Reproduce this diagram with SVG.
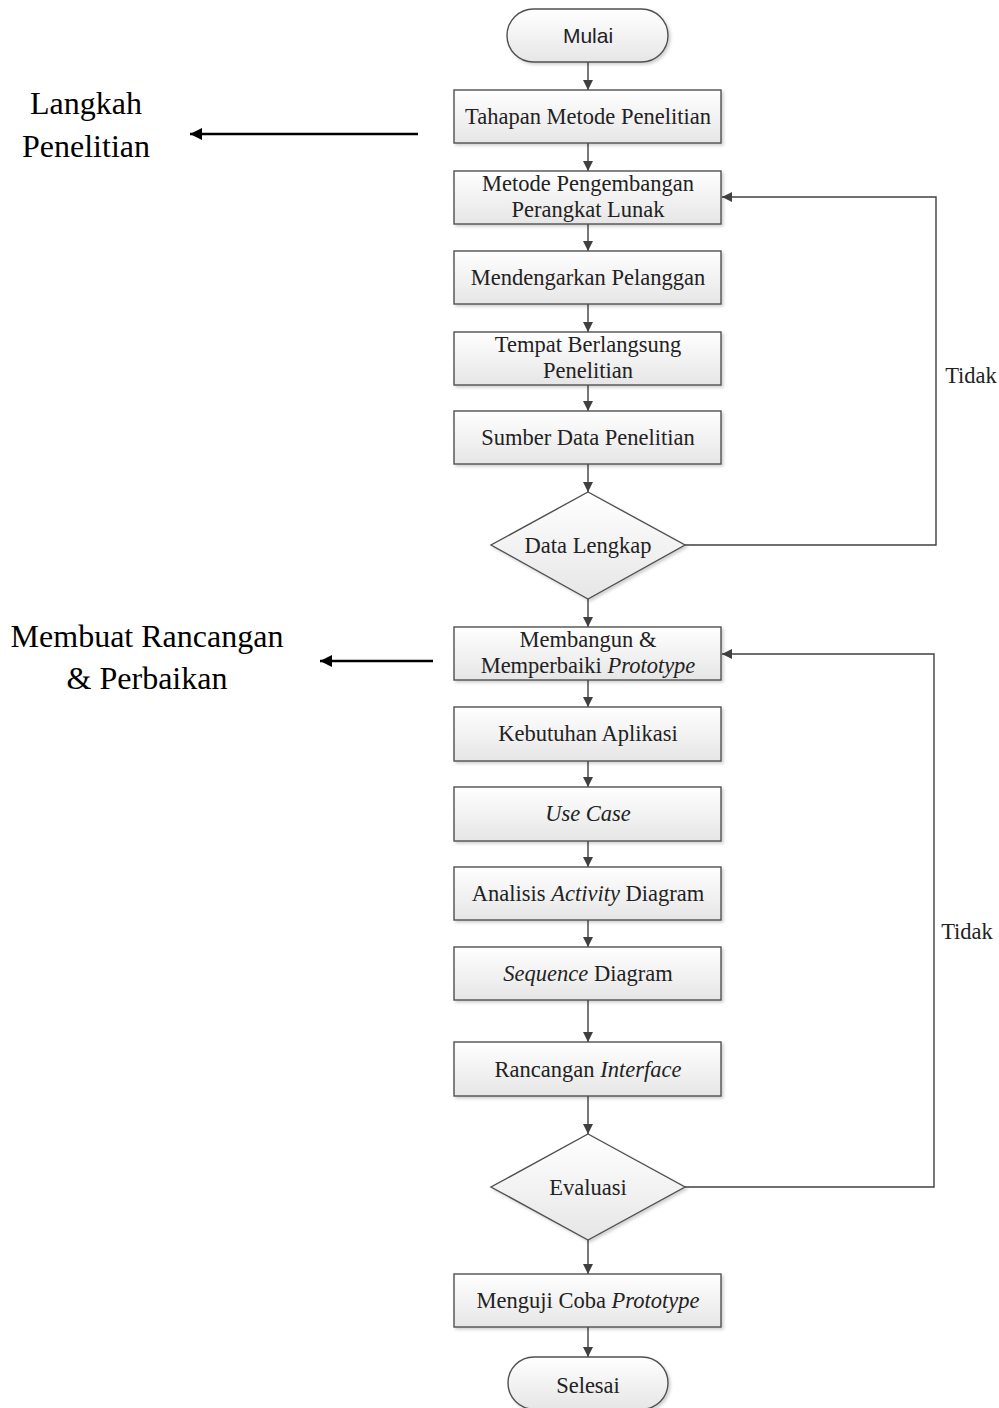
<svg xmlns="http://www.w3.org/2000/svg" width="999" height="1408" viewBox="0 0 999 1408">
<defs>
<linearGradient id="g" x1="0" y1="0" x2="0" y2="1">
<stop offset="0" stop-color="#ffffff"/>
<stop offset="1" stop-color="#e6e6e6"/>
</linearGradient>
<filter id="sh" x="-5%" y="-10%" width="115%" height="130%">
<feDropShadow dx="2" dy="2" stdDeviation="1.5" flood-color="#000" flood-opacity="0.18"/>
</filter>
<marker id="ah" viewBox="0 0 10 10" refX="10" refY="5" markerWidth="10" markerHeight="10" markerUnits="userSpaceOnUse" orient="auto">
<path d="M0,0 L10,5 L0,10 z" fill="#404040"/>
</marker>
<marker id="ahb" viewBox="0 0 10 10" refX="10" refY="5" markerWidth="14" markerHeight="12" markerUnits="userSpaceOnUse" orient="auto">
<path d="M0,0 L10,5 L0,10 z" fill="#000"/>
</marker>
</defs>
<style>
.n{fill:url(#g);stroke:#505050;stroke-width:1.4;filter:url(#sh)}
.t{font-family:"Liberation Serif","Times New Roman",serif;font-size:22.5px;fill:#222;text-anchor:middle}
.s{font-family:"Liberation Sans",Arial,sans-serif;font-size:21px;fill:#222;text-anchor:middle}
.L{font-family:"Liberation Serif","Times New Roman",serif;font-size:32px;fill:#000;text-anchor:middle}
.c{fill:none;stroke:#404040;stroke-width:1.4;marker-end:url(#ah)}
.b{fill:none;stroke:#000;stroke-width:2.5;marker-end:url(#ahb)}
</style>
<rect width="999" height="1408" fill="#fff"/>

<g id="labels">
<text class="L" x="86" y="114">Langkah</text>
<text class="L" x="86" y="157">Penelitian</text>
<text class="L" x="147" y="647">Membuat Rancangan</text>
<text class="L" x="147" y="689">&amp; Perbaikan</text>
<text class="t" x="971" y="383">Tidak</text>
<text class="t" x="967" y="939">Tidak</text>
</g>

<g id="connectors">
<line class="b" x1="418" y1="134" x2="190" y2="134"/>
<line class="b" x1="433" y1="661" x2="320" y2="661"/>
<line class="c" x1="588" y1="62" x2="588" y2="90"/>
<line class="c" x1="588" y1="143" x2="588" y2="171"/>
<line class="c" x1="588" y1="224" x2="588" y2="251"/>
<line class="c" x1="588" y1="304" x2="588" y2="332"/>
<line class="c" x1="588" y1="385" x2="588" y2="411"/>
<line class="c" x1="588" y1="464" x2="588" y2="492"/>
<line class="c" x1="588" y1="599" x2="588" y2="627"/>
<line class="c" x1="588" y1="680" x2="588" y2="707"/>
<line class="c" x1="588" y1="761" x2="588" y2="787"/>
<line class="c" x1="588" y1="841" x2="588" y2="867"/>
<line class="c" x1="588" y1="920" x2="588" y2="947"/>
<line class="c" x1="588" y1="1000" x2="588" y2="1042"/>
<line class="c" x1="588" y1="1096" x2="588" y2="1134"/>
<line class="c" x1="588" y1="1240" x2="588" y2="1274"/>
<line class="c" x1="588" y1="1327" x2="588" y2="1357"/>
<polyline class="c" points="685,545 936,545 936,197 722,197"/>
<polyline class="c" points="685,1187 934,1187 934,654 722,654"/>
</g>

<g id="n-mulai"><rect class="n" x="507" y="9" width="161" height="53" rx="26.5"/><text class="s" x="588" y="43">Mulai</text></g>
<g id="n-tahapan"><rect class="n" x="454" y="90" width="267" height="53"/><text class="t" x="588" y="124">Tahapan Metode Penelitian</text></g>
<g id="n-metode"><rect class="n" x="454" y="171" width="267" height="53"/><text class="t" x="588" y="191">Metode Pengembangan</text><text class="t" x="588" y="217">Perangkat Lunak</text></g>
<g id="n-mendengarkan"><rect class="n" x="454" y="251" width="267" height="53"/><text class="t" x="588" y="285">Mendengarkan Pelanggan</text></g>
<g id="n-tempat"><rect class="n" x="454" y="332" width="267" height="53"/><text class="t" x="588" y="352">Tempat Berlangsung</text><text class="t" x="588" y="378">Penelitian</text></g>
<g id="n-sumber"><rect class="n" x="454" y="411" width="267" height="53"/><text class="t" x="588" y="445">Sumber Data Penelitian</text></g>
<g id="n-datalengkap"><polygon class="n" points="588,492 685,545 588,599 491,545"/><text class="t" x="588" y="553">Data Lengkap</text></g>
<g id="n-membangun"><rect class="n" x="454" y="627" width="267" height="53"/><text class="t" x="588" y="647">Membangun &amp;</text><text class="t" x="588" y="673">Memperbaiki <tspan font-style="italic">Prototype</tspan></text></g>
<g id="n-kebutuhan"><rect class="n" x="454" y="707" width="267" height="54"/><text class="t" x="588" y="741">Kebutuhan Aplikasi</text></g>
<g id="n-usecase"><rect class="n" x="454" y="787" width="267" height="54"/><text class="t" x="588" y="821" font-style="italic">Use Case</text></g>
<g id="n-activity"><rect class="n" x="454" y="867" width="267" height="53"/><text class="t" x="588" y="901">Analisis <tspan font-style="italic">Activity</tspan> Diagram</text></g>
<g id="n-sequence"><rect class="n" x="454" y="947" width="267" height="53"/><text class="t" x="588" y="981"><tspan font-style="italic">Sequence</tspan> Diagram</text></g>
<g id="n-interface"><rect class="n" x="454" y="1042" width="267" height="54"/><text class="t" x="588" y="1077">Rancangan <tspan font-style="italic">Interface</tspan></text></g>
<g id="n-evaluasi"><polygon class="n" points="588,1134 685,1187 588,1240 491,1187"/><text class="t" x="588" y="1195">Evaluasi</text></g>
<g id="n-menguji"><rect class="n" x="454" y="1274" width="267" height="53"/><text class="t" x="588" y="1308">Menguji Coba <tspan font-style="italic">Prototype</tspan></text></g>
<g id="n-selesai"><rect class="n" x="508" y="1357" width="160" height="52" rx="26"/><text class="t" x="588" y="1393">Selesai</text></g>
</svg>
